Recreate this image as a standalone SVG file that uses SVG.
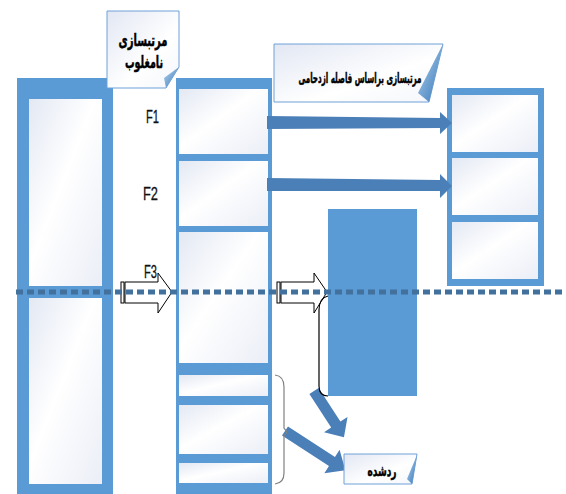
<svg xmlns="http://www.w3.org/2000/svg" width="566" height="494" viewBox="0 0 566 494">
<defs>
<linearGradient id="cell" x1="0" y1="0" x2="1" y2="1">
<stop offset="0" stop-color="#E3E8F3"/>
<stop offset="0.45" stop-color="#FFFFFF"/>
<stop offset="1" stop-color="#EBEEF7"/>
</linearGradient>
<linearGradient id="call" x1="0" y1="0" x2="1" y2="1">
<stop offset="0" stop-color="#E2E7F3"/>
<stop offset="0.6" stop-color="#FFFFFF"/>
<stop offset="1" stop-color="#F4F6FB"/>
</linearGradient>
<linearGradient id="fold" x1="0" y1="0" x2="1" y2="1">
<stop offset="0" stop-color="#BCD5F0"/>
<stop offset="1" stop-color="#2E75B6"/>
</linearGradient>
<style>
.col{fill:#5B9BD5}
.cell{fill:url(#cell)}
.callout{fill:url(#call);stroke:#6FA0D8;stroke-width:1}
.fold{fill:url(#fold)}
.fat{fill:#4B7FB8}
.hollow{fill:#fff;stroke:#000;stroke-width:1}
.brace{fill:none;stroke-width:1.2}
.lbl{font-family:'Liberation Sans',Arial,sans-serif;font-size:18px;fill:#111;stroke:#111;stroke-width:0.3}
.fa{font-family:'DejaVu Sans',sans-serif;font-weight:bold;fill:#000;stroke:#000;stroke-width:0.5;text-anchor:middle}
</style>
</defs>
<rect width="566" height="494" fill="#fff"/>

<g id="left-column">
<rect class="col" x="17" y="78" width="96" height="420"/>
<rect class="cell" x="29" y="99" width="73" height="187"/>
<rect class="cell" x="29" y="298" width="73" height="186"/>
</g>

<g id="middle-column">
<rect class="col" x="176" y="78" width="96" height="420"/>
<rect class="cell" x="179" y="89" width="89" height="65"/>
<rect class="cell" x="179" y="161" width="89" height="65"/>
<rect class="cell" x="179" y="232" width="89" height="131"/>
<rect class="cell" x="179" y="375" width="89" height="21"/>
<rect class="cell" x="179" y="405" width="89" height="49"/>
<rect class="cell" x="179" y="463" width="89" height="20"/>
</g>

<g id="right-column">
<rect class="col" x="447" y="88" width="97" height="198"/>
<rect class="cell" x="452" y="95" width="86" height="57"/>
<rect class="cell" x="452" y="158" width="86" height="57"/>
<rect class="cell" x="452" y="222" width="86" height="57"/>
</g>

<g id="rejected-block">
<rect class="col" x="328" y="209" width="89" height="187"/>
</g>

<g id="labels">
<text class="lbl" x="146" y="123" textLength="13" lengthAdjust="spacingAndGlyphs">F1</text>
<text class="lbl" x="143" y="200" textLength="15" lengthAdjust="spacingAndGlyphs">F2</text>
<text class="lbl" x="144" y="278" textLength="13" lengthAdjust="spacingAndGlyphs">F3</text>
</g>

<g id="connectors">
<path class="fat" d="M267,116 L440,118 L440,112 L452,123 L440,134 L440,128 L267,129 Z"/>
<path class="fat" d="M267,178 L440,180 L440,174 L452,186 L440,198 L440,191 L267,191 Z"/>
<path class="fat" transform="translate(314,391) rotate(57)" d="M0,-5.5 L40,-5.5 L40,-14 L55,0 L40,14 L40,5.5 L0,5.5 Z"/>
<path class="fat" transform="translate(285,431) rotate(33)" d="M0,-5.5 L56,-5.5 L56,-14 L72,0 L56,14 L56,5.5 L0,5.5 Z"/>
<path class="hollow" d="M125,282 L158,282 L158,273 L172,292 L158,313 L158,303 L125,303 Z"/>
<rect class="hollow" x="121" y="282" width="3" height="21" stroke-width="1.3"/>
<path class="hollow" d="M281,282 L314,282 L314,273 L327,292 L314,313 L314,303 L281,303 Z"/>
<rect class="hollow" x="277" y="282" width="3" height="21" stroke-width="1.3"/>
<path class="brace" stroke="#000" d="M328,296 Q319,298 319,310 L319,386 Q319,396 328,396"/>
<path class="brace" stroke="#808080" d="M275,375 Q284,376 284,387 L284,428 L287,432 L284,436 L284,473 Q284,483 275,484"/>
<line x1="16" y1="292" x2="566" y2="292" stroke="#41719C" stroke-width="5" stroke-dasharray="7 4"/>
</g>

<g id="callout-dominated">
<path class="callout" d="M107,11 L179,11 L179,67 L166,88 L107,88 Z"/>
<path class="fold" d="M179,67 L164,78 L166,88 Z"/>
<text class="fa" font-size="17" x="143" y="46" textLength="49" lengthAdjust="spacingAndGlyphs">مرتبسازی</text>
<text class="fa" font-size="17" x="144" y="68" textLength="38" lengthAdjust="spacingAndGlyphs">نامغلوب</text>
</g>

<g id="callout-crowding">
<path class="callout" d="M274,44 L443,44 L429,102 L274,102 Z"/>
<path class="fold" d="M443,44 L418,93 L429,102 Z"/>
<text class="fa" font-size="14" x="360" y="83" textLength="123" lengthAdjust="spacingAndGlyphs">مرتبسازی براساس فاصله ازدحامی</text>
</g>

<g id="callout-rejected">
<path class="callout" d="M344,454 L417,454 L412,484 L344,484 Z"/>
<path class="fold" d="M417,455 L407,479 L412,484 Z"/>
<text class="fa" font-size="15" x="382" y="476" textLength="29" lengthAdjust="spacingAndGlyphs">ردشده</text>
</g>
</svg>
